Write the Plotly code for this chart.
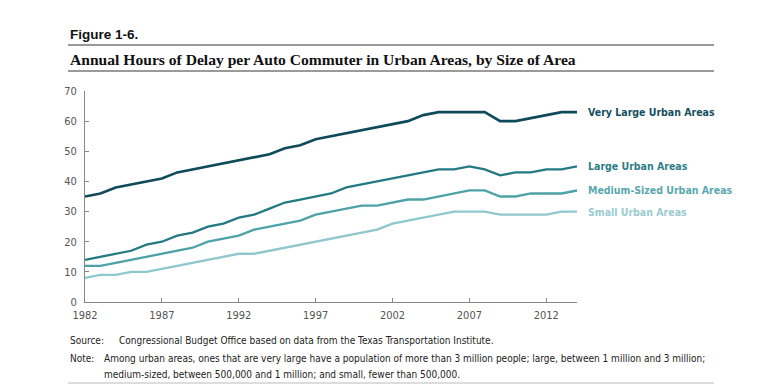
import plotly.graph_objects as go

years = list(range(1982, 2015))
very_large = [35, 36, 38, 39, 40, 41, 43, 44, 45, 46, 47, 48, 49, 51, 52, 54,
              55, 56, 57, 58, 59, 60, 62, 63, 63, 63, 63, 60, 60, 61, 62, 63, 63]
large = [14, 15, 16, 17, 19, 20, 22, 23, 25, 26, 28, 29, 31, 33, 34, 35,
         36, 38, 39, 40, 41, 42, 43, 44, 44, 45, 44, 42, 43, 43, 44, 44, 45]
medium = [12, 12, 13, 14, 15, 16, 17, 18, 20, 21, 22, 24, 25, 26, 27, 29,
          30, 31, 32, 32, 33, 34, 34, 35, 36, 37, 37, 35, 35, 36, 36, 36, 37]
small = [8, 9, 9, 10, 10, 11, 12, 13, 14, 15, 16, 16, 17, 18, 19, 20,
         21, 22, 23, 24, 26, 27, 28, 29, 30, 30, 30, 29, 29, 29, 29, 30, 30]

series_names = ["Very Large Urban Areas", "Large Urban Areas",
                "Medium-Sized Urban Areas", "Small Urban Areas"]
series_values = [very_large, large, medium, small]
line_colors = ["#0e4a5a", "#237a83", "#4da2a7", "#8fc8cc"]
label_colors = ["#134f5f", "#2b7e86", "#5aa8ad", "#9acbd0"]
line_widths = [2.6, 2.3, 2.3, 2.3]

x_ticks = [1982, 1987, 1992, 1997, 2002, 2007, 2012]

NARROW = "Liberation Sans Narrow, DejaVu Sans Condensed, Arial Narrow, sans-serif"

# page has an 8px body margin; positions below are screen pixels
OFF = 8
W, H = 780, 384
L, R, T, B = 85 - OFF, 780 - 577 + OFF, 91 - OFF, 384 - 302 + OFF
pw, ph = W - L - R, H - T - B


def px(x):
    return (x - OFF - L) / pw


def py(y):
    return (H - B - (y - OFF)) / ph


fig = go.Figure()
for name, vals, c, w in zip(series_names, series_values, line_colors, line_widths):
    fig.add_trace(go.Scatter(x=years, y=vals, mode="lines", name=name,
                             line=dict(color=c, width=w), showlegend=False))

for name, vals, c in zip(series_names, series_values, label_colors):
    fig.add_annotation(x=years[-1], y=vals[-1], xref="x", yref="y", text="<b>" + name + "</b>",
                       showarrow=False, xanchor="left", yanchor="middle", xshift=9,
                       font=dict(family=NARROW, size=10.5, color=c))

fig.add_annotation(x=px(68), y=py(35), xref="paper", yref="paper", text="<b>Figure 1-6.</b>",
                   showarrow=False, xanchor="left", yanchor="middle",
                   font=dict(family="Liberation Sans, Arial, sans-serif", size=13.5, color="#111"))
fig.add_annotation(x=px(68), y=py(59), xref="paper", yref="paper",
                   text="<b>Annual Hours of Delay per Auto Commuter in Urban Areas, by Size of Area</b>",
                   showarrow=False, xanchor="left", yanchor="middle",
                   font=dict(family="Liberation Serif, Times New Roman, serif", size=15.6, color="#111"))

note_font = dict(family=NARROW, size=10, color="#222")
fig.add_annotation(x=px(68), y=py(340), xref="paper", yref="paper", text="Source:",
                   showarrow=False, xanchor="left", yanchor="middle", font=note_font)
fig.add_annotation(x=px(117), y=py(340), xref="paper", yref="paper",
                   text="Congressional Budget Office based on data from the Texas Transportation Institute.",
                   showarrow=False, xanchor="left", yanchor="middle", font=note_font)
fig.add_annotation(x=px(68), y=py(358), xref="paper", yref="paper", text="Note:",
                   showarrow=False, xanchor="left", yanchor="middle", font=note_font)
fig.add_annotation(x=px(102), y=py(358), xref="paper", yref="paper",
                   text="Among urban areas, ones that are very large have a population of more than 3 million people; large, between 1 million and 3 million;",
                   showarrow=False, xanchor="left", yanchor="middle", font=note_font)
fig.add_annotation(x=px(102), y=py(374), xref="paper", yref="paper",
                   text="medium-sized, between 500,000 and 1 million; and small, fewer than 500,000.",
                   showarrow=False, xanchor="left", yanchor="middle", font=note_font)

for yy in (45, 71):
    fig.add_shape(type="line", xref="paper", yref="paper", x0=px(68), x1=px(714), y0=py(yy), y1=py(yy),
                  line=dict(color="#9a9a9a", width=2))
fig.add_shape(type="line", xref="paper", yref="paper", x0=px(68), x1=px(714), y0=py(383), y1=py(383),
              line=dict(color="#bbbbbb", width=1))

fig.update_layout(
    width=W, height=H,
    margin=dict(l=L, r=R, t=T, b=B, pad=0),
    paper_bgcolor="white", plot_bgcolor="white",
    xaxis=dict(range=[1982, 2014], tickvals=x_ticks, ticks="inside", ticklen=4, tickcolor="#888",
               showline=True, linecolor="#888", linewidth=1, showgrid=False, zeroline=False,
               ticklabelstandoff=3,
               tickfont=dict(family=NARROW, size=11, color="#555")),
    yaxis=dict(range=[0, 70], dtick=10, ticks="inside", ticklen=4, tickcolor="#888",
               showline=True, linecolor="#888", linewidth=1, showgrid=False, zeroline=False,
               ticklabelstandoff=5,
               tickfont=dict(family=NARROW, size=11, color="#555")),
)

fig.write_html("out.html")
